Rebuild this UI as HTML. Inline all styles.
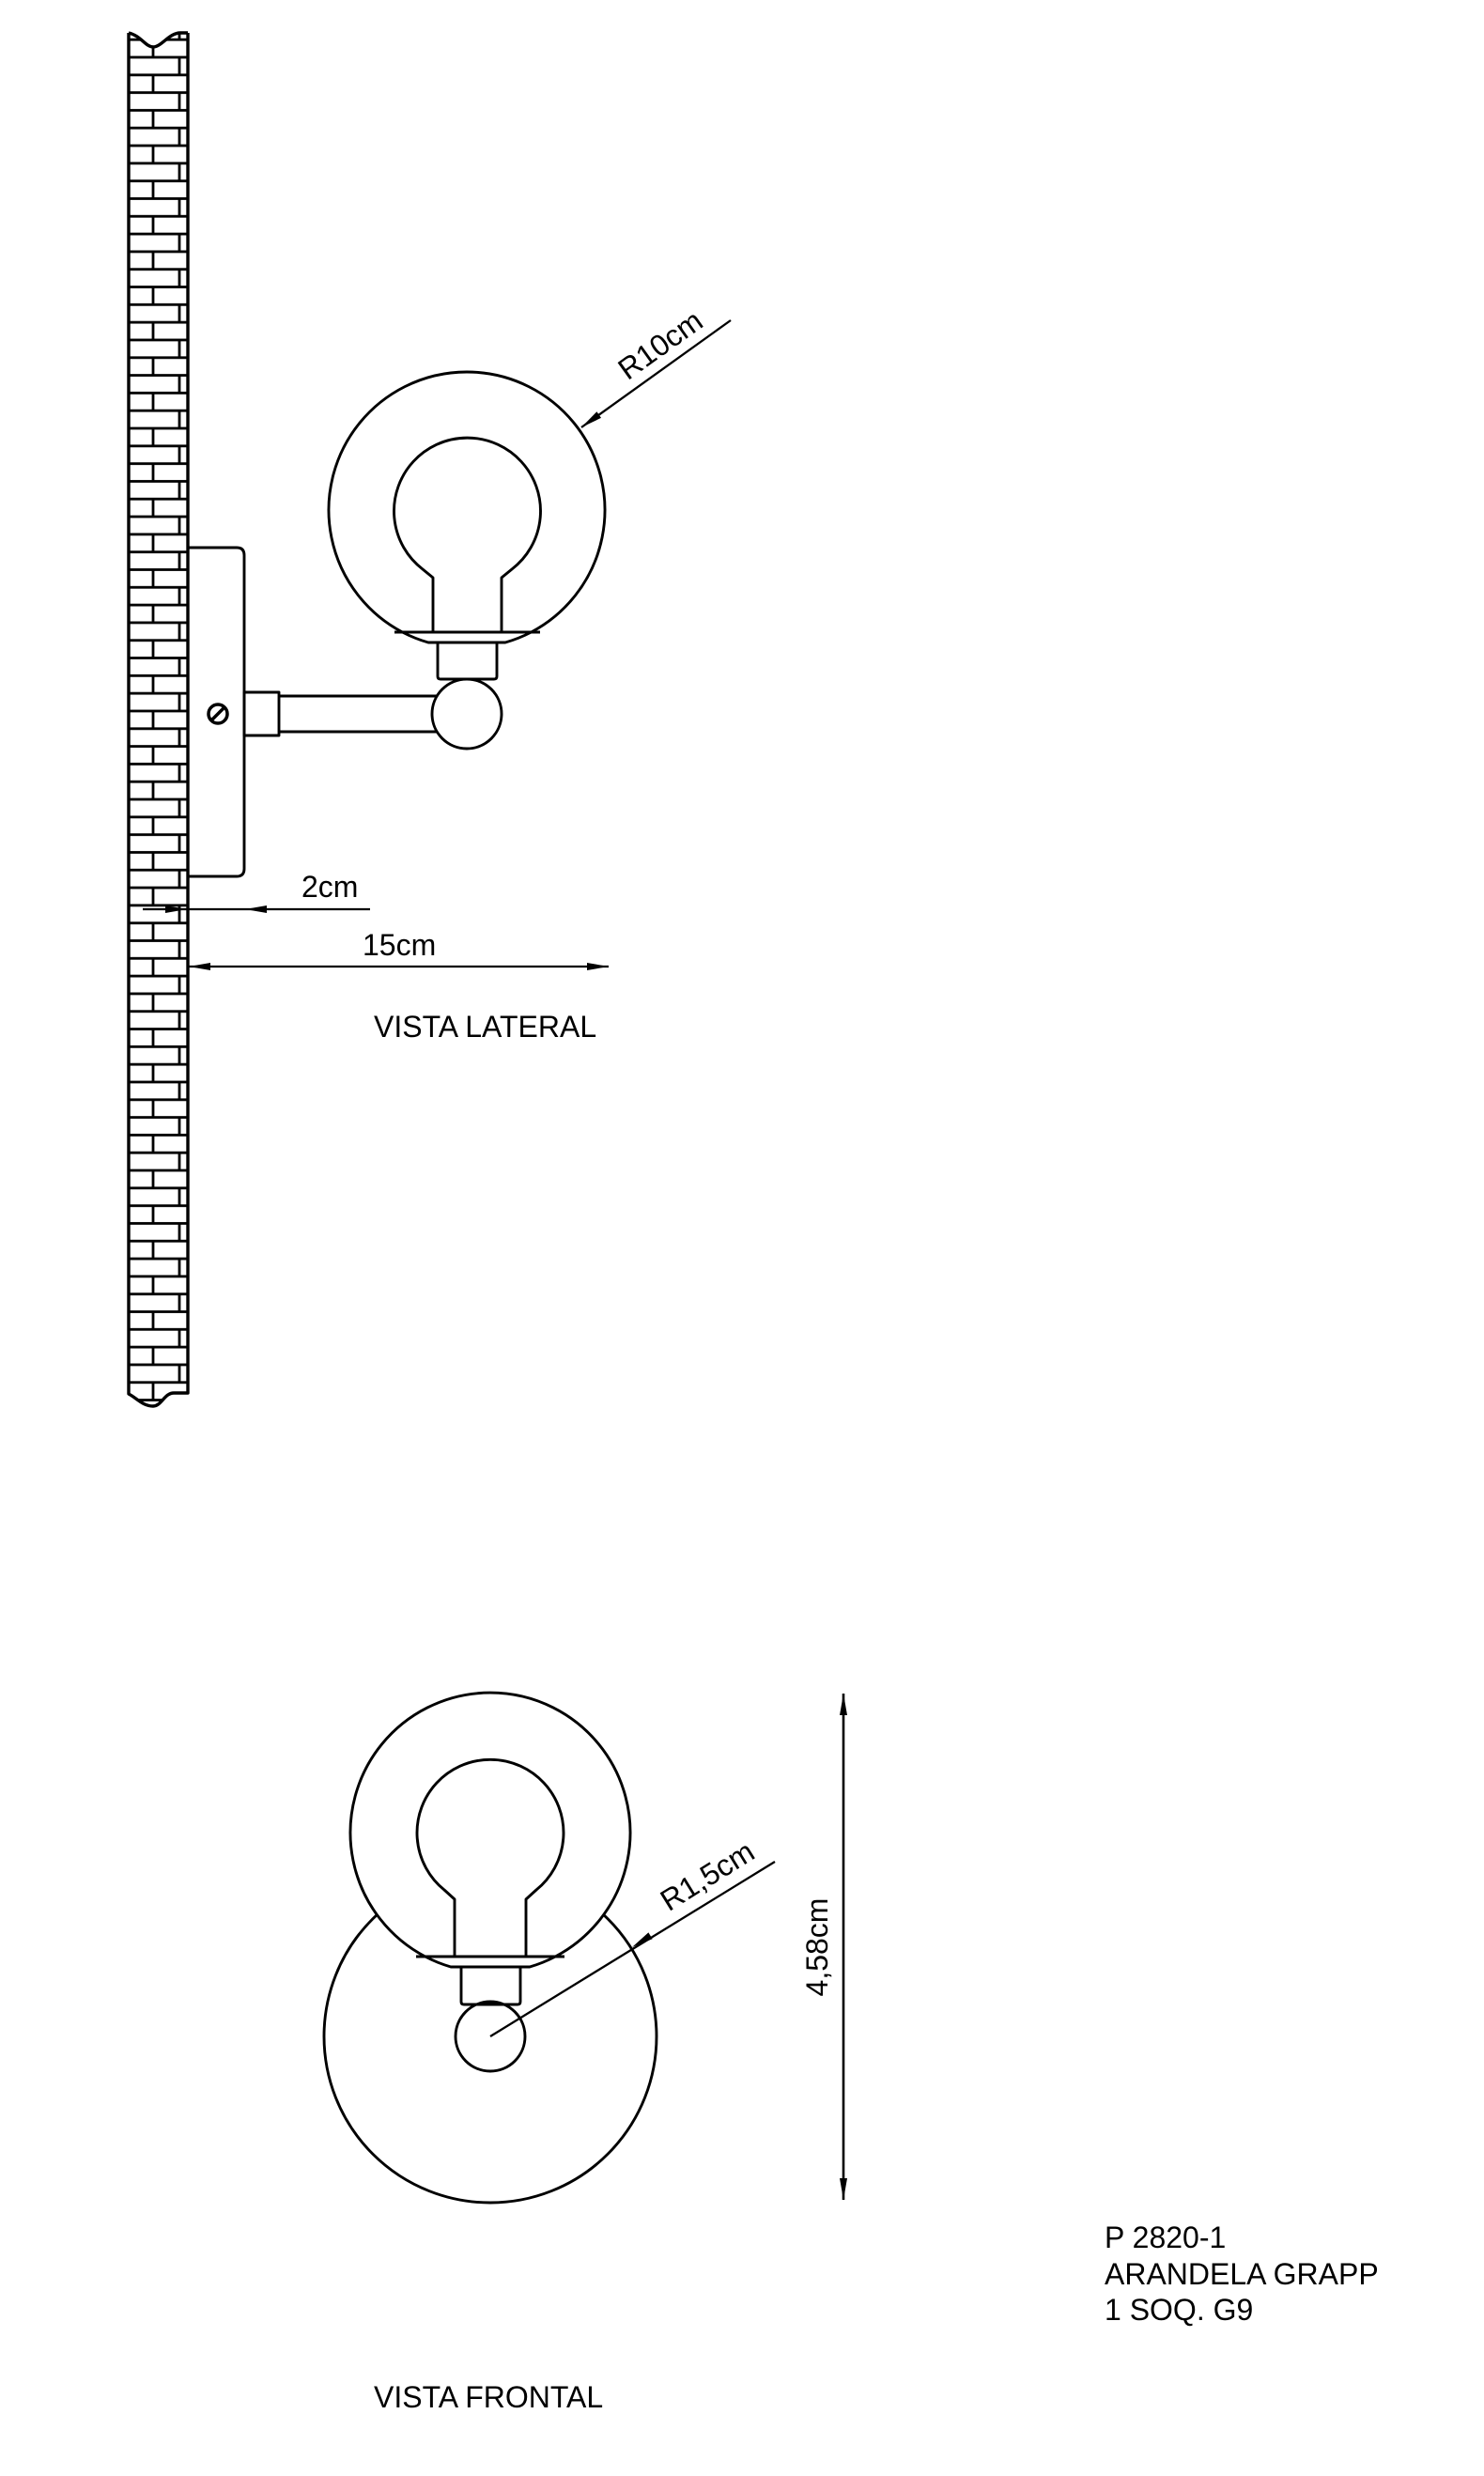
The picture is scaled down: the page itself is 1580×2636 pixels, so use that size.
<!DOCTYPE html>
<html><head><meta charset="utf-8"><style>
html,body{margin:0;padding:0;background:#fff}
svg{display:block}
text{font-family:"Liberation Sans",Arial,sans-serif;fill:#000}
</style></head><body>
<svg width="1580" height="2636" viewBox="0 0 1580 2636" xmlns="http://www.w3.org/2000/svg">
<defs>
<pattern id="brick" patternUnits="userSpaceOnUse" x="138" y="42.19" width="62" height="37.62">
<rect x="0" y="17.4" width="62" height="2.8" fill="#000"/>
<rect x="0" y="36.22" width="62" height="1.4" fill="#000"/>
<rect x="0" y="0" width="62" height="1.4" fill="#000"/>
<rect x="23.6" y="0" width="2.8" height="18.81" fill="#000"/>
<rect x="51.6" y="18.81" width="2.8" height="18.81" fill="#000"/>
</pattern>
</defs>
<g fill="none" stroke="#000" stroke-width="2.9" stroke-linejoin="round">
<path d="M137,35 C150,38 155,50 163,50 C172,50 180,35 192,35 L200,35 L200,1483 L185,1483 C175,1483 172,1497 163,1497 C152,1497 145,1488 137,1484 Z" fill="url(#brick)" stroke="none"/>
<path d="M137,35 C150,38 155,50 163,50 C172,50 180,35 192,35 L200,35 M200,35 L200,1483 L185,1483 C175,1483 172,1497 163,1497 C152,1497 145,1488 137,1484 L137,35" stroke-width="3.4"/>
<path d="M199,583 L252,583 Q260,583 260,591 L260,925 Q260,933 252,933 L199,933"/>
<circle cx="232" cy="760" r="10" stroke-width="3.5"/>
<line x1="225" y1="767" x2="239" y2="753" stroke-width="3.5"/>
<rect x="260" y="737" width="37" height="46"/>
<line x1="297" y1="741" x2="466" y2="741"/>
<line x1="297" y1="779" x2="466" y2="779"/>
<circle cx="497" cy="760" r="37" fill="#fff"/>
<path d="M466,684 L466,720 Q466,723 469,723 L526,723 Q529,723 529,720 L529,684"/>
<path d="M428.4,673 A147,147 0 1 1 565.6,673"/>
<path d="M428.4,673 A147,147 0 0 0 456,684 L538,684 A147,147 0 0 0 565.6,673"/>
<line x1="420" y1="673" x2="575" y2="673"/>
<path d="M461,673 L461,615 L450,606 A78,78 0 1 1 545,606 L534,615 L534,673"/>
<line x1="152" y1="968" x2="394" y2="968" stroke-width="2.3"/>
<line x1="201" y1="1029" x2="648" y2="1029" stroke-width="2.3"/>
<line x1="778" y1="341" x2="619" y2="455" stroke-width="2.3"/>
<circle cx="522" cy="2168" r="177"/>
<path d="M452.7,2083 A149,149 0 1 1 591.3,2083 A149,149 0 0 1 564,2094 L480,2094 A149,149 0 0 1 452.7,2083 Z" fill="#fff"/>
<line x1="443" y1="2083" x2="601" y2="2083"/>
<path d="M484,2083 L484,2022 L473,2012 A78,78 0 1 1 571,2012 L560,2022 L560,2083"/>
<path d="M491,2094 L491,2131 Q491,2134 494,2134 L551,2134 Q554,2134 554,2131 L554,2094"/>
<circle cx="522" cy="2168" r="37"/>
<line x1="825" y1="1982" x2="522" y2="2168" stroke-width="2.3"/>
<line x1="898" y1="1803" x2="898" y2="2342" stroke-width="2.6"/>
</g>
<g fill="#000" stroke="none">
<polygon points="199,968 176,964 176,972"/>
<polygon points="261,968 284,964 284,972"/>
<polygon points="201,1029 224,1025 224,1033"/>
<polygon points="648,1029 625,1025 625,1033"/>
<polygon points="619,455 640,444.9 635.4,438.3"/>
<polygon points="673,2073 694.6,2064.2 690.4,2057.4"/>
<polygon points="898,1803 894,1826 902,1826"/>
<polygon points="898,2342 894,2319 902,2319"/>
</g>
<g font-size="32">
<text x="321" y="955">2cm</text>
<text x="386" y="1017">15cm</text>
<text x="398" y="1104">VISTA LATERAL</text>
<text x="703" y="367" text-anchor="middle" dominant-baseline="central" transform="rotate(-35.6 703 367)">R10cm</text>
<text x="753" y="1997" text-anchor="middle" dominant-baseline="central" transform="rotate(-31.9 753 1997)">R1,5cm</text>
<text x="870" y="2073" text-anchor="middle" dominant-baseline="central" transform="rotate(-90 870 2073)">4,58cm</text>
<text x="398" y="2563">VISTA FRONTAL</text>
<text x="1176" y="2393">P 2820-1</text>
<text x="1176" y="2432">ARANDELA GRAPP</text>
<text x="1176" y="2470">1 SOQ. G9</text>
</g>
</svg>
</body></html>
